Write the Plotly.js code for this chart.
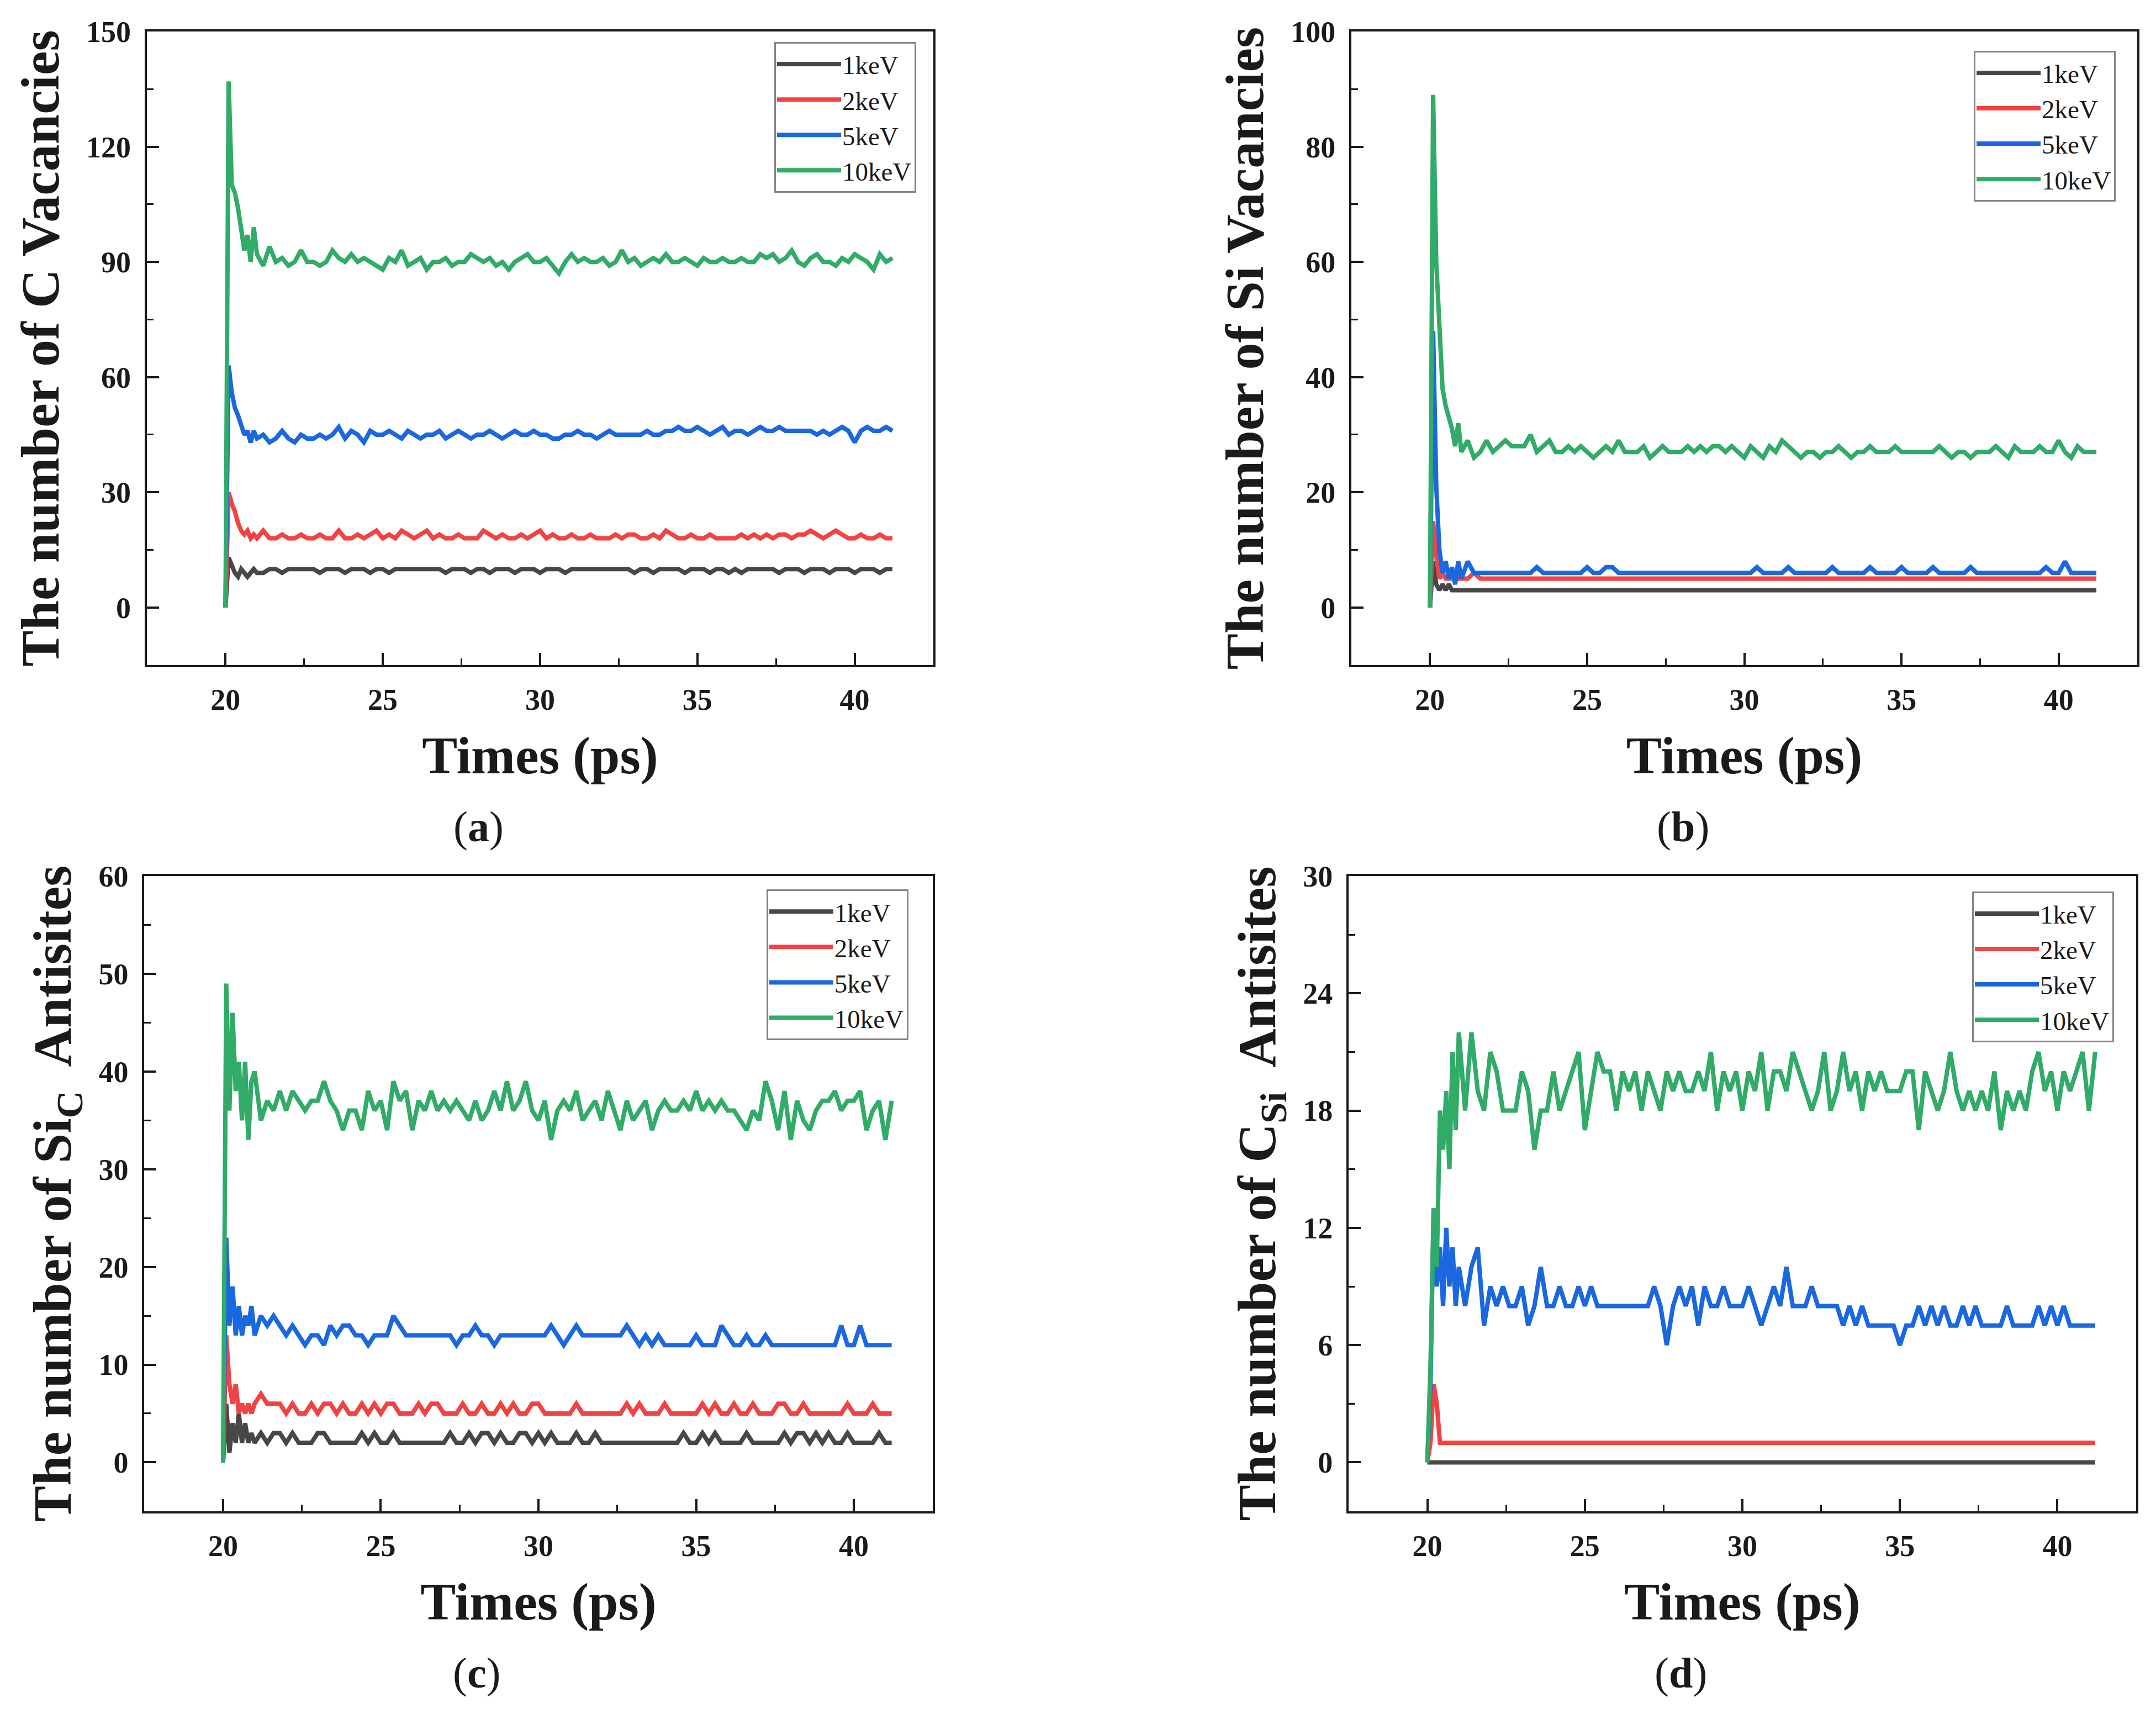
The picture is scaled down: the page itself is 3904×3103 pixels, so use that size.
<!DOCTYPE html>
<html>
<head>
<meta charset="utf-8">
<script src="https://cdn.plot.ly/plotly-3.0.1.min.js"></script>
<style>
  html, body { margin: 0; padding: 0; background: #fff; }
  #chart { width: 3904px; height: 3103px; }
</style>
</head>
<body>
<div id="chart"></div>
<script>
// sample times (ps): dense over the cascade, then every 0.2 ps
const TIME = [
  20.0, 20.1, 20.2, 20.3, 20.4, 20.5, 20.6, 20.7, 20.8, 20.9, 21.0,
  21.2, 21.4, 21.6, 21.8, 22.0, 22.2, 22.4, 22.6, 22.8, 23.0,
  23.2, 23.4, 23.6, 23.8, 24.0, 24.2, 24.4, 24.6, 24.8, 25.0,
  25.2, 25.4, 25.6, 25.8, 26.0, 26.2, 26.4, 26.6, 26.8, 27.0,
  27.2, 27.4, 27.6, 27.8, 28.0, 28.2, 28.4, 28.6, 28.8, 29.0,
  29.2, 29.4, 29.6, 29.8, 30.0, 30.2, 30.4, 30.6, 30.8, 31.0,
  31.2, 31.4, 31.6, 31.8, 32.0, 32.2, 32.4, 32.6, 32.8, 33.0,
  33.2, 33.4, 33.6, 33.8, 34.0, 34.2, 34.4, 34.6, 34.8, 35.0,
  35.2, 35.4, 35.6, 35.8, 36.0, 36.2, 36.4, 36.6, 36.8, 37.0,
  37.2, 37.4, 37.6, 37.8, 38.0, 38.2, 38.4, 38.6, 38.8, 39.0,
  39.2, 39.4, 39.6, 39.8, 40.0, 40.2, 40.4, 40.6, 40.8, 41.0,
  41.2,
];

// (a) C vacancies
const A_1KEV = [
  0, 13, 11, 9, 8, 10, 9, 8, 9, 10, 9,
  9, 10, 10, 9, 10, 10, 10, 10, 10, 9,
  10, 10, 10, 9, 10, 10, 10, 9, 10, 10,
  9, 10, 10, 10, 10, 10, 10, 10, 10, 9,
  10, 10, 10, 9, 10, 10, 9, 10, 10, 10,
  9, 10, 10, 10, 9, 10, 10, 10, 9, 10,
  10, 10, 10, 10, 10, 10, 10, 10, 10, 9,
  10, 10, 9, 10, 10, 10, 10, 9, 10, 10,
  10, 9, 10, 10, 9, 10, 9, 10, 10, 10,
  10, 10, 9, 10, 10, 10, 9, 10, 10, 10,
  9, 10, 10, 10, 9, 10, 10, 10, 9, 10,
  10,
];
const A_2KEV = [
  0, 30, 27, 25, 22, 20, 19, 20, 18, 19, 18,
  20, 18, 18, 19, 18, 18, 19, 18, 18, 19,
  18, 18, 20, 18, 18, 19, 18, 19, 20, 18,
  19, 18, 20, 19, 18, 19, 20, 18, 19, 18,
  18, 19, 18, 18, 18, 20, 19, 18, 19, 18,
  18, 19, 18, 19, 20, 18, 19, 18, 18, 19,
  18, 18, 19, 18, 18, 18, 19, 18, 19, 19,
  18, 18, 19, 18, 20, 19, 18, 18, 19, 18,
  18, 19, 18, 18, 18, 18, 19, 18, 19, 18,
  19, 18, 19, 19, 18, 19, 19, 20, 19, 18,
  19, 20, 19, 18, 18, 19, 18, 18, 19, 18,
  18,
];
const A_5KEV = [
  0, 63, 56, 52, 50, 47, 45, 46, 43, 46, 44,
  45, 43, 44, 46, 44, 43, 45, 44, 44, 45,
  44, 45, 47, 44, 46, 45, 43, 46, 45, 45,
  46, 45, 44, 46, 45, 44, 45, 45, 46, 44,
  45, 46, 45, 44, 45, 45, 46, 45, 44, 45,
  46, 45, 45, 46, 45, 45, 44, 44, 45, 45,
  46, 45, 45, 44, 45, 46, 45, 45, 45, 45,
  45, 46, 45, 45, 46, 46, 47, 46, 46, 47,
  46, 45, 46, 47, 45, 46, 46, 45, 46, 47,
  46, 46, 47, 46, 46, 46, 46, 46, 45, 46,
  45, 46, 47, 46, 43, 46, 47, 46, 46, 47,
  46,
];
const A_10KEV = [
  0, 137, 110, 108, 104, 99, 93, 97, 90, 99, 92,
  89, 94, 90, 91, 89, 90, 93, 90, 90, 89,
  90, 93, 91, 90, 92, 90, 91, 90, 89, 88,
  91, 90, 93, 89, 90, 91, 88, 90, 90, 91,
  89, 90, 90, 92, 91, 90, 91, 89, 90, 88,
  90, 91, 92, 90, 90, 91, 89, 87, 90, 92,
  90, 91, 90, 90, 91, 89, 90, 93, 90, 91,
  89, 90, 91, 90, 92, 90, 90, 91, 90, 89,
  91, 90, 90, 91, 90, 90, 91, 90, 90, 92,
  91, 92, 90, 91, 93, 90, 89, 91, 92, 90,
  90, 89, 91, 90, 92, 91, 90, 88, 92, 90,
  91,
];

// (b) Si vacancies: 1keV and 2keV only change during the cascade
const B_1KEV_TIME = [20.0, 20.1, 20.2, 20.3, 20.4, 20.5, 20.6, 20.7, 20.8, 20.9, 21.0, 41.2];
const B_1KEV = [0, 8, 4, 3, 4, 3, 4, 3, 3, 3, 3, 3];
const B_2KEV_TIME = [20.0, 20.1, 20.2, 20.3, 20.4, 20.5, 20.6, 20.7, 20.8, 20.9, 21.0, 21.2, 21.4, 21.6, 41.2];
const B_2KEV = [0, 15, 9, 5, 6, 5, 5, 5, 5, 5, 5, 5, 6, 5, 5];
const B_5KEV = [
  0, 48, 21, 10, 6, 8, 5, 7, 4, 8, 5,
  8, 6, 6, 6, 6, 6, 6, 6, 6, 6,
  6, 7, 6, 6, 6, 6, 6, 6, 6, 7,
  6, 6, 7, 7, 6, 6, 6, 6, 6, 6,
  6, 6, 6, 6, 6, 6, 6, 6, 6, 6,
  6, 6, 6, 6, 6, 6, 7, 6, 6, 6,
  6, 7, 6, 6, 6, 6, 6, 6, 7, 6,
  6, 6, 6, 6, 7, 6, 6, 6, 6, 7,
  6, 6, 6, 6, 7, 6, 6, 6, 6, 6,
  7, 6, 6, 6, 6, 6, 6, 6, 6, 6,
  6, 6, 7, 6, 6, 8, 6, 6, 6, 6,
  6,
];
const B_10KEV = [
  0, 89, 60, 48, 38, 35, 33, 31, 28, 32, 27,
  29, 26, 27, 29, 27, 28, 29, 28, 28, 28,
  30, 27, 28, 29, 27, 27, 28, 27, 28, 27,
  26, 27, 28, 27, 29, 27, 27, 27, 28, 26,
  27, 28, 27, 27, 27, 28, 27, 28, 27, 28,
  28, 27, 28, 27, 26, 28, 27, 26, 28, 27,
  29, 28, 27, 26, 27, 27, 26, 27, 27, 28,
  27, 26, 27, 27, 28, 27, 27, 27, 28, 27,
  27, 27, 27, 27, 27, 28, 27, 26, 27, 27,
  26, 27, 27, 27, 28, 27, 26, 28, 27, 27,
  27, 28, 27, 27, 29, 27, 26, 28, 27, 27,
  27,
];

// (c) Si_C antisites
const C_1KEV = [
  0, 6, 1, 4, 2, 5, 2, 4, 2, 3, 2,
  3, 2, 3, 3, 2, 3, 2, 2, 2, 3,
  3, 2, 2, 2, 2, 2, 3, 2, 3, 2,
  2, 3, 2, 2, 2, 2, 2, 2, 2, 2,
  3, 2, 2, 3, 2, 3, 3, 2, 3, 2,
  2, 3, 3, 2, 3, 2, 3, 2, 2, 2,
  3, 2, 2, 3, 2, 2, 2, 2, 2, 2,
  2, 2, 2, 2, 2, 2, 2, 3, 2, 2,
  3, 2, 3, 2, 2, 2, 2, 3, 2, 2,
  2, 2, 2, 3, 2, 3, 3, 2, 3, 2,
  3, 2, 2, 3, 2, 2, 2, 2, 3, 2,
  2,
];
const C_2KEV = [
  0, 13, 8, 6, 8, 5, 6, 5, 6, 5, 6,
  7, 6, 6, 6, 5, 6, 5, 5, 6, 5,
  6, 6, 5, 6, 5, 5, 6, 5, 6, 5,
  6, 6, 5, 5, 5, 6, 5, 6, 6, 5,
  5, 5, 6, 5, 5, 6, 5, 5, 6, 5,
  6, 5, 5, 6, 6, 5, 5, 5, 5, 5,
  6, 5, 5, 5, 5, 5, 5, 5, 6, 5,
  6, 5, 5, 5, 6, 5, 5, 5, 5, 5,
  6, 5, 6, 5, 5, 6, 5, 5, 6, 5,
  5, 5, 6, 6, 5, 5, 6, 5, 5, 5,
  5, 5, 5, 6, 5, 5, 5, 6, 5, 5,
  5,
];
const C_5KEV = [
  0, 23, 14, 18, 13, 16, 13, 15, 14, 16, 13,
  15, 14, 15, 14, 13, 14, 13, 12, 13, 13,
  12, 14, 13, 14, 14, 13, 13, 12, 13, 13,
  13, 15, 14, 13, 13, 13, 13, 13, 13, 13,
  13, 12, 13, 13, 14, 13, 13, 12, 13, 13,
  13, 13, 13, 13, 13, 13, 14, 13, 12, 13,
  14, 13, 13, 13, 13, 13, 13, 13, 14, 13,
  12, 13, 12, 13, 12, 12, 12, 12, 12, 13,
  12, 12, 12, 14, 13, 12, 12, 13, 12, 12,
  13, 12, 12, 12, 12, 12, 12, 12, 12, 12,
  12, 12, 14, 12, 12, 14, 12, 12, 12, 12,
  12,
];
const C_10KEV = [
  0, 49, 36, 46, 38, 41, 35, 41, 33, 39, 40,
  35, 37, 36, 38, 36, 38, 37, 36, 37, 37,
  39, 37, 36, 34, 36, 36, 34, 38, 36, 37,
  34, 39, 37, 38, 34, 37, 36, 38, 36, 37,
  36, 37, 36, 35, 37, 35, 36, 38, 36, 39,
  36, 37, 39, 36, 35, 37, 33, 36, 37, 36,
  38, 35, 36, 37, 35, 38, 36, 34, 37, 35,
  36, 37, 34, 36, 37, 36, 36, 37, 36, 38,
  36, 37, 36, 37, 36, 36, 35, 34, 36, 35,
  39, 37, 34, 38, 33, 37, 35, 34, 36, 37,
  37, 38, 36, 37, 37, 38, 34, 36, 37, 33,
  37,
];

// (d) C_Si antisites
const D_1KEV_TIME = [20.0, 41.2];
const D_1KEV = [0, 0];
const D_2KEV_TIME = [20.0, 20.1, 20.2, 20.3, 20.4, 41.2];
const D_2KEV = [0, 1, 4, 3, 1, 1];
const D_5KEV = [
  0, 4, 13, 9, 11, 8, 12, 9, 11, 8, 10,
  8, 10, 11, 7, 9, 8, 9, 8, 8, 9,
  7, 8, 10, 8, 8, 9, 8, 8, 9, 8,
  9, 8, 8, 8, 8, 8, 8, 8, 8, 8,
  9, 8, 6, 8, 9, 8, 9, 7, 9, 8,
  8, 9, 8, 8, 8, 9, 8, 7, 8, 9,
  8, 10, 8, 8, 8, 9, 8, 8, 8, 8,
  7, 8, 7, 8, 7, 7, 7, 7, 7, 6,
  7, 7, 8, 7, 8, 7, 8, 7, 7, 8,
  7, 8, 7, 7, 7, 7, 8, 7, 7, 7,
  7, 8, 7, 8, 7, 8, 7, 7, 7, 7,
  7,
];
const D_10KEV = [
  0, 5, 13, 10, 18, 16, 19, 15, 21, 17, 22,
  18, 22, 19, 18, 21, 20, 18, 18, 18, 20,
  19, 16, 18, 18, 20, 18, 19, 20, 21, 17,
  19, 21, 20, 20, 18, 20, 19, 20, 18, 20,
  19, 18, 20, 19, 20, 19, 19, 20, 19, 21,
  18, 20, 19, 20, 18, 20, 19, 21, 18, 20,
  20, 19, 21, 20, 19, 18, 19, 21, 18, 19,
  21, 19, 20, 18, 20, 19, 20, 19, 19, 19,
  20, 20, 17, 20, 19, 18, 19, 21, 19, 18,
  19, 18, 19, 18, 20, 17, 19, 18, 19, 18,
  20, 21, 19, 20, 18, 20, 19, 20, 21, 18,
  21,
];

const SERIES_NAMES = ["1keV", "2keV", "5keV", "10keV"];
const SERIES_COLORS = ["#474747", "#f24343", "#1a68e0", "#30ab68"];

const FONT = "Liberation Serif, Times New Roman, serif";
const INK = "#1a1a1a";

const PANELS = [
  {
    ytitle: "The number of C Vacancies",
    caption: "a",
    xdomain: [0.0681, 0.4329],
    ydomain: [0.612, 0.9816],
    yrange: [-15, 150],
    ydtick: 30,
    legendPos: [0.3591, 0.9755],
    series: [
      [TIME, A_1KEV], [TIME, A_2KEV], [TIME, A_5KEV], [TIME, A_10KEV],
    ],
  },
  {
    ytitle: "The number of Si Vacancies",
    caption: "b",
    xdomain: [0.6268, 0.9913],
    ydomain: [0.612, 0.9816],
    yrange: [-10, 100],
    ydtick: 20,
    legendPos: [0.9155, 0.9704],
    series: [
      [B_1KEV_TIME, B_1KEV], [B_2KEV_TIME, B_2KEV], [TIME, B_5KEV], [TIME, B_10KEV],
    ],
  },
  {
    ytitle: "The number of Si<sub>C</sub>  Antisites",
    caption: "c",
    xdomain: [0.0669, 0.4326],
    ydomain: [0.1183, 0.4889],
    yrange: [-5, 60],
    ydtick: 10,
    legendPos: [0.3555, 0.4811],
    series: [
      [TIME, C_1KEV], [TIME, C_2KEV], [TIME, C_5KEV], [TIME, C_10KEV],
    ],
  },
  {
    ytitle: "The number of C<sub>Si</sub>  Antisites",
    caption: "d",
    xdomain: [0.6255, 0.9908],
    ydomain: [0.1183, 0.4889],
    yrange: [-2.5, 30],
    ydtick: 6,
    legendPos: [0.9147, 0.4799],
    series: [
      [D_1KEV_TIME, D_1KEV], [D_2KEV_TIME, D_2KEV], [TIME, D_5KEV], [TIME, D_10KEV],
    ],
  },
];

function axisBase() {
  return {
    showline: true,
    linecolor: INK,
    linewidth: 4,
    mirror: true,
    showgrid: false,
    zeroline: false,
    ticks: "inside",
    ticklen: 22,
    tickwidth: 4,
    tickcolor: INK,
    tickfont: { family: FONT, size: 54, color: INK, weight: "bold" },
  };
}

function buildFigure() {
  const traces = [];
  const layout = {
    width: 3904,
    height: 3103,
    margin: { l: 0, r: 0, t: 0, b: 0 },
    paper_bgcolor: "#fff",
    plot_bgcolor: "#fff",
    showlegend: true,
    annotations: [],
  };

  PANELS.forEach((panel, i) => {
    const n = i === 0 ? "" : String(i + 1);
    const legendKey = `legend${n}`;

    panel.series.forEach(([x, y], k) => {
      traces.push({
        type: "scatter",
        mode: "lines",
        name: SERIES_NAMES[k],
        x,
        y,
        xaxis: `x${n}`,
        yaxis: `y${n}`,
        legend: legendKey,
        line: { color: SERIES_COLORS[k], width: 8 },
        hoverinfo: "skip",
      });
    });

    layout[`xaxis${n}`] = {
      ...axisBase(),
      domain: panel.xdomain,
      anchor: `y${n}`,
      range: [17.5, 42.5],
      dtick: 5,
      tick0: 20,
      ticklabelstandoff: 12,
      minor: { ticks: "inside", ticklen: 12, tickwidth: 3, tickcolor: INK, dtick: 2.5, tick0: 20 },
      title: {
        text: "<b>Times (ps)</b>",
        font: { family: FONT, size: 96, color: INK },
        standoff: 38,
      },
    };

    layout[`yaxis${n}`] = {
      ...axisBase(),
      domain: panel.ydomain,
      anchor: `x${n}`,
      range: panel.yrange,
      dtick: panel.ydtick,
      tick0: 0,
      ticklabelstandoff: 14,
      minor: { ticks: "inside", ticklen: 12, tickwidth: 3, tickcolor: INK, dtick: panel.ydtick / 2, tick0: 0 },
      title: {
        text: `<b>${panel.ytitle}</b>`,
        font: { family: FONT, size: 98, color: INK },
        standoff: 18,
      },
    };

    layout[legendKey] = {
      x: panel.legendPos[0],
      y: panel.legendPos[1],
      xref: "paper",
      yref: "paper",
      xanchor: "left",
      yanchor: "top",
      bgcolor: "#fff",
      bordercolor: "#858585",
      borderwidth: 3,
      itemwidth: 110,
      tracegroupgap: 0,
      font: { family: FONT, size: 47, color: INK },
    };

    const midX = (panel.xdomain[0] + panel.xdomain[1]) / 2;
    layout.annotations.push({
      xref: "paper",
      yref: "paper",
      x: midX - 0.0285,
      y: panel.ydomain[0] - 0.0944,
      xanchor: "center",
      yanchor: "middle",
      showarrow: false,
      text: `(<b>${panel.caption}</b>)`,
      font: { family: FONT, size: 78, color: INK },
    });
  });

  return { traces, layout };
}

// stretch the short legend line samples to match the figure
function widenLegendLines() {
  document.querySelectorAll(".legendlines path").forEach((path) => {
    const d = path.getAttribute("d") || "";
    const m = d.match(/^M([-\d.]+),([-\d.]+)h([-\d.]+)/);
    if (!m) return;
    const centre = Number(m[1]) + Number(m[3]) / 2;
    path.setAttribute("d", `M${centre - 58},0h116`);
  });
}

const { traces, layout } = buildFigure();
Plotly.newPlot("chart", traces, layout, { displayModeBar: false, staticPlot: true })
  .then(widenLegendLines);
</script>
</body>
</html>
